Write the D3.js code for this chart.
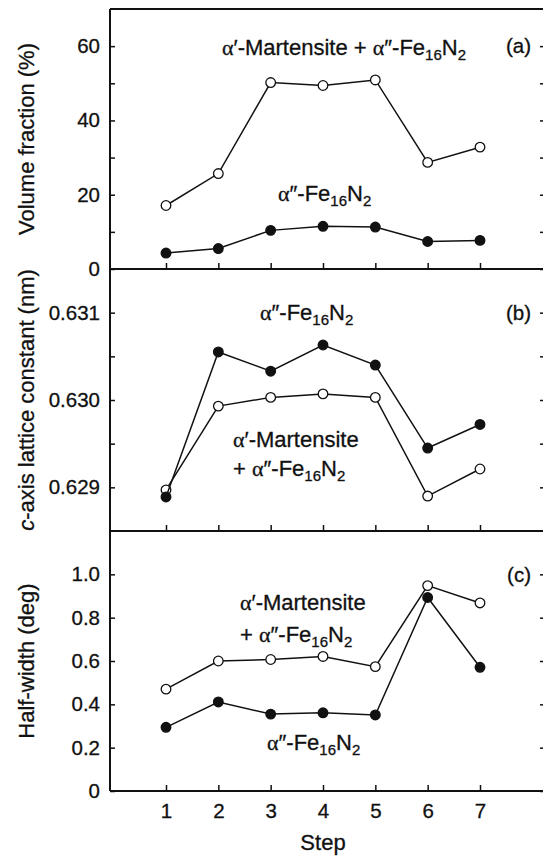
<!DOCTYPE html>
<html>
<head>
<meta charset="utf-8">
<script src="https://cdn.jsdelivr.net/npm/d3@7"></script>
<style>
  body { margin: 0; background: #fff; }
  text { font-family: "Liberation Sans", Arial, sans-serif; fill: #111; stroke: #111; stroke-width: 0.3px; }
</style>
</head>
<body>
<div id="chart"></div>
<script>
// data
const steps = [1, 2, 3, 4, 5, 6, 7];

const volMartensite = [17.1, 25.7, 50.2, 49.4, 50.9, 28.7, 32.8];   // open
const volFe16N2     = [4.3, 5.5, 10.4, 11.5, 11.3, 7.4, 7.7];       // filled

const cMartensite = [0.62897, 0.62993, 0.63003, 0.63007, 0.63003, 0.62890, 0.62921];
const cFe16N2     = [0.62889, 0.63055, 0.63033, 0.63063, 0.63040, 0.62945, 0.62972];

const hwMartensite = [0.47, 0.60, 0.607, 0.621, 0.574, 0.948, 0.868];
const hwFe16N2     = [0.294, 0.411, 0.355, 0.361, 0.351, 0.893, 0.571];

const volTicks = [0, 10, 20, 30, 40, 50, 60];
const volLabels = [0, 20, 40, 60];
const cTicks = [0.629, 0.6295, 0.630, 0.6305, 0.631];
const cLabels = [0.629, 0.630, 0.631];
const hwTicks = [0, 0.2, 0.4, 0.6, 0.8, 1.0];
const hwLabels = [0, 0.2, 0.4, 0.6, 0.8, 1.0];

const W = 543, H = 856;
const left = 110, right = 545;
const tickFont = "20.5px", textFont = "22px";

const svg = d3.select("#chart").append("svg")
  .attr("width", W).attr("height", H);

// step 1 -> 166, step 7 -> 480
const x = d3.scaleLinear().domain([1, 7]).range([166, 480]);

const panels = [
  {top: 9, bottom: 269, domain: [0, 70], ticks: volTicks, labels: volLabels,
   fmt: d3.format("d"), open: volMartensite, filled: volFe16N2, tag: "(a)",
   title: "Volume fraction (%)", tagY: 60},
  {top: 269, bottom: 531, domain: [0.6285, 0.6315], ticks: cTicks, labels: cLabels,
   fmt: d3.format(".3f"), open: cMartensite, filled: cFe16N2, tag: "(b)",
   title: "lattice", tagY: 0.631},
  {top: 531, bottom: 791, domain: [0, 1.2], ticks: hwTicks, labels: hwLabels,
   fmt: d => d === 0 ? "0" : d3.format(".1f")(d), open: hwMartensite, filled: hwFe16N2, tag: "(c)",
   title: "Half-width (deg)", tagY: 1.0}
];

panels.forEach((p, i) => {
  const y = d3.scaleLinear().domain(p.domain).range([p.bottom, p.top]);
  const g = svg.append("g");

  // left axis, inward ticks
  const la = g.append("g").attr("transform", `translate(${left},0)`)
    .call(d3.axisLeft(y).tickValues(p.ticks).tickSize(-5).tickPadding(10)
      .tickFormat(d => p.labels.some(v => Math.abs(v - d) < 1e-9) ? p.fmt(d) : ""));
  // right axis, inward ticks
  const ra = g.append("g").attr("transform", `translate(${right},0)`)
    .call(d3.axisRight(y).tickValues(p.ticks).tickSize(-5).tickFormat(""));
  // bottom axis, inward ticks
  const ba = g.append("g").attr("transform", `translate(0,${p.bottom})`)
    .call(d3.axisBottom(x).tickValues(steps).tickSize(-6).tickPadding(12)
      .tickFormat(i === 2 ? d3.format("d") : ""));
  [la, ra, ba].forEach(a => {
    a.select(".domain").remove();
    a.selectAll("line").attr("stroke", "#111").attr("stroke-width", 1.5);
    a.selectAll("text").style("font-size", tickFont).attr("fill", "#111");
  });

  // panel label
  g.append("text").attr("x", 531).attr("y", y(p.tagY)).attr("dy", "0.35em")
    .attr("text-anchor", "end").style("font-size", tickFont).text(p.tag);

  const line = d3.line().x((d, k) => x(steps[k])).y(d => y(d));
  [p.open, p.filled].forEach((s, k) => {
    g.append("path").datum(s).attr("d", line).attr("fill", "none")
      .attr("stroke", "#111").attr("stroke-width", 1.5);
    g.selectAll(null).data(s).join("circle")
      .attr("cx", (d, j) => x(steps[j])).attr("cy", d => y(d)).attr("r", 4.8)
      .attr("fill", k === 0 ? "#fff" : "#111").attr("stroke", "#111").attr("stroke-width", 1.3);
  });

  // y title
  const cy = (p.top + p.bottom) / 2;
  const t = svg.append("text").attr("transform", `translate(34,${cy}) rotate(-90)`)
    .attr("text-anchor", "middle").style("font-size", textFont);
  if (i === 1) {
    t.append("tspan").style("font-style", "italic").text("c");
    t.append("tspan").text("-axis lattice constant (nm)");
  } else {
    t.text(p.title);
  }
});

// frame
const frame = svg.append("g").attr("stroke", "#111").attr("stroke-width", 2);
frame.append("line").attr("x1", left).attr("x2", left).attr("y1", 9).attr("y2", 791);
frame.append("line").attr("x1", right).attr("x2", right).attr("y1", 9).attr("y2", 791);
[9, 269, 531, 791].forEach(yy =>
  frame.append("line").attr("x1", left).attr("x2", right).attr("y1", yy).attr("y2", yy));

// "Step" title
svg.append("text").attr("x", (166 + 480) / 2).attr("y", 850)
  .attr("text-anchor", "middle").style("font-size", textFont).text("Step");

// series labels with greek alpha and subscripts
function phase(t, prime) {
  t.append("tspan").style("font-family", "'Liberation Serif', serif").text("\u03b1");
  t.append("tspan").text(prime + "-");
}
function fe(t) {
  phase(t, "\u2033");
  t.append("tspan").text("Fe");
  t.append("tspan").attr("dy", 5).style("font-size", "15px").text("16");
  t.append("tspan").attr("dy", -5).text("N");
  t.append("tspan").attr("dy", 5).style("font-size", "15px").text("2");
}
function label(xx, yy, kind) {
  const t = svg.append("text").attr("x", xx).attr("y", yy).style("font-size", textFont);
  if (kind === "both") {
    phase(t, "\u2032");
    t.append("tspan").text("Martensite + ");
    fe(t);
  } else if (kind === "mart") {
    phase(t, "\u2032");
    t.append("tspan").text("Martensite");
  } else if (kind === "plusfe") {
    t.append("tspan").text("+ ");
    fe(t);
  } else {
    fe(t);
  }
}
label(222, 55, "both");
label(278, 201, "fe");
label(260, 320, "fe");
label(233, 447, "mart");
label(233, 476, "plusfe");
label(240, 610, "mart");
label(240, 642, "plusfe");
label(267, 750, "fe");
</script>
</body>
</html>
